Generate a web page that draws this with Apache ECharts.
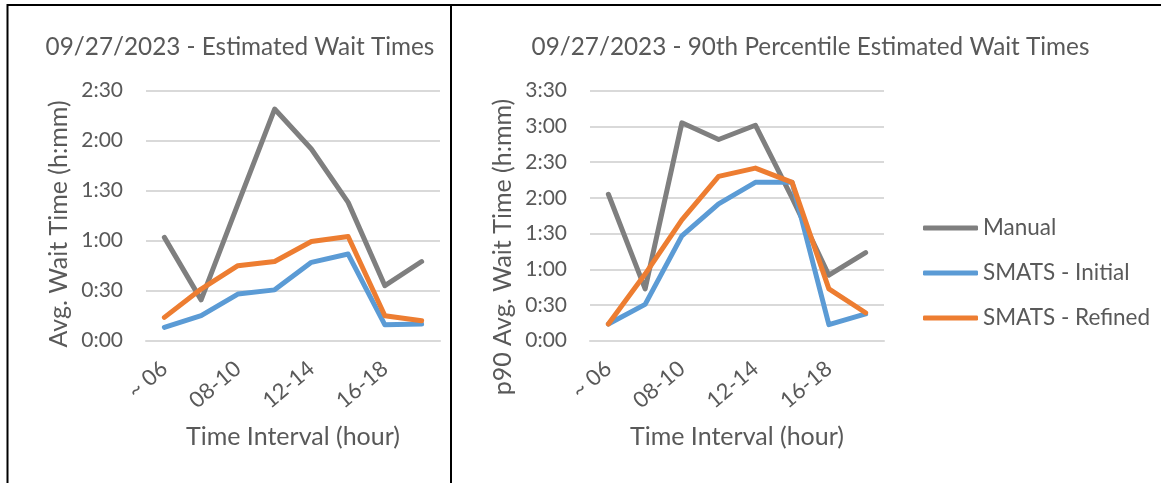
<!DOCTYPE html>
<html>
<head>
<meta charset="utf-8">
<script src="https://cdn.jsdelivr.net/npm/echarts@6/dist/echarts.min.js"></script>
<style>
  html, body { margin: 0; padding: 0; background: #fff; }
  #chart { width: 1161px; height: 483px; }
</style>
</head>
<body>
<div id="chart"></div>
<script>
// ---- data (minutes) ----
const categories = ["~ 06", "06-08", "08-10", "10-12", "12-14", "14-16", "16-18", "18 ~"];
const seriesNames = ["Manual", "SMATS - Initial", "SMATS - Refined"];

const avgManual  = [62, 24.5, 82, 139, 115, 83, 33, 47.5];
const avgInitial = [8, 15, 28, 30.5, 47, 52, 9.5, 10];
const avgRefined = [14, 31, 45, 47.5, 59.5, 62.5, 15, 12];

const p90Manual  = [123, 43.5, 183, 169, 181, 120, 55, 74];
const p90Initial = [14, 30.5, 88, 115, 133, 133, 13.5, 22.5];
const p90Refined = [14, 56, 101.5, 138, 145, 133, 43.5, 23.5];

const leftTitle = "09/27/2023 - Estimated Wait Times";
const rightTitle = "09/27/2023 - 90th Percentile Estimated Wait Times";
const leftYName = "Avg. Wait Time (h:mm)";
const rightYName = "p90 Avg. Wait Time (h:mm)";
const xName = "Time Interval (hour)";

// ---- styling ----
const FONT = "Lato";
const TXT = "#595959";
const colors = ["#7f7f7f", "#5b9bd5", "#ed7d31"];

function hmm(v) {
  const h = Math.floor(v / 60);
  const m = Math.round(v % 60);
  return h + ":" + (m < 10 ? "0" + m : m);
}

function xAxis(gridIndex) {
  return {
    type: "category", gridIndex, data: categories, boundaryGap: true,
    axisLine: { show: true, lineStyle: { color: "#d9d9d9", width: 2 } },
    axisTick: { show: false },
    axisLabel: { interval: 1, rotate: 40, margin: 25, color: TXT, fontFamily: FONT, fontSize: 22 },
    name: xName, nameLocation: "middle", nameGap: 84,
    nameTextStyle: { color: TXT, fontFamily: FONT, fontSize: 25 }
  };
}
function yAxis(gridIndex, max) {
  return {
    type: "value", gridIndex, min: 0, max, interval: 30,
    axisLine: { show: false }, axisTick: { show: false },
    splitLine: { lineStyle: { color: "#d9d9d9", width: 2 } },
    axisLabel: { formatter: hmm, margin: 23, color: TXT, fontFamily: FONT, fontSize: 21 }
  };
}
function line(name, data, idx, color) {
  return {
    type: "line", name, data, xAxisIndex: idx, yAxisIndex: idx,
    symbol: "none", color,
    lineStyle: { width: 5, color, cap: "round", join: "round" },
    emphasis: { disabled: true }
  };
}
function vText(text, x, y) {
  return {
    type: "text", x, y, rotation: Math.PI / 2,
    style: { text, fill: TXT, font: "25px " + FONT, align: "center", verticalAlign: "middle" }
  };
}

const chart = echarts.init(document.getElementById("chart"), null, { renderer: "canvas" });
chart.setOption({
  backgroundColor: "#fff",
  animation: false,
  title: [
    { text: leftTitle, left: 235, top: 30, textAlign: "center",
      textStyle: { color: TXT, fontFamily: FONT, fontSize: 24.3, fontWeight: "normal" } },
    { text: rightTitle, left: 805.5, top: 30, textAlign: "center",
      textStyle: { color: TXT, fontFamily: FONT, fontSize: 24.3, fontWeight: "normal" } }
  ],
  grid: [
    { left: 146, top: 90.7, width: 294, height: 250, containLabel: false },
    { left: 590, top: 90.7, width: 294, height: 250, containLabel: false }
  ],
  xAxis: [xAxis(0), xAxis(1)],
  yAxis: [yAxis(0, 150), yAxis(1, 210)],
  legend: {
    data: seriesNames, orient: "vertical", left: 918, top: 211,
    icon: "roundRect", itemWidth: 55, itemHeight: 5, itemGap: 21,
    textStyle: { color: TXT, fontFamily: FONT, fontSize: 22.5, lineHeight: 24 },
    selectedMode: false
  },
  series: [
    line(seriesNames[0], avgManual, 0, colors[0]),
    line(seriesNames[1], avgInitial, 0, colors[1]),
    line(seriesNames[2], avgRefined, 0, colors[2]),
    line(seriesNames[0], p90Manual, 1, colors[0]),
    line(seriesNames[1], p90Initial, 1, colors[1]),
    line(seriesNames[2], p90Refined, 1, colors[2])
  ],
  graphic: [
    vText(leftYName, 59, 224),
    vText(rightYName, 503, 247),
    { type: "line", shape: { x1: 7, y1: 5, x2: 1161, y2: 5 }, style: { stroke: "#000", lineWidth: 2 } },
    { type: "line", shape: { x1: 7.5, y1: 4, x2: 7.5, y2: 483 }, style: { stroke: "#000", lineWidth: 2 } },
    { type: "line", shape: { x1: 451, y1: 4, x2: 451, y2: 483 }, style: { stroke: "#000", lineWidth: 2 } }
  ]
});
</script>
</body>
</html>
